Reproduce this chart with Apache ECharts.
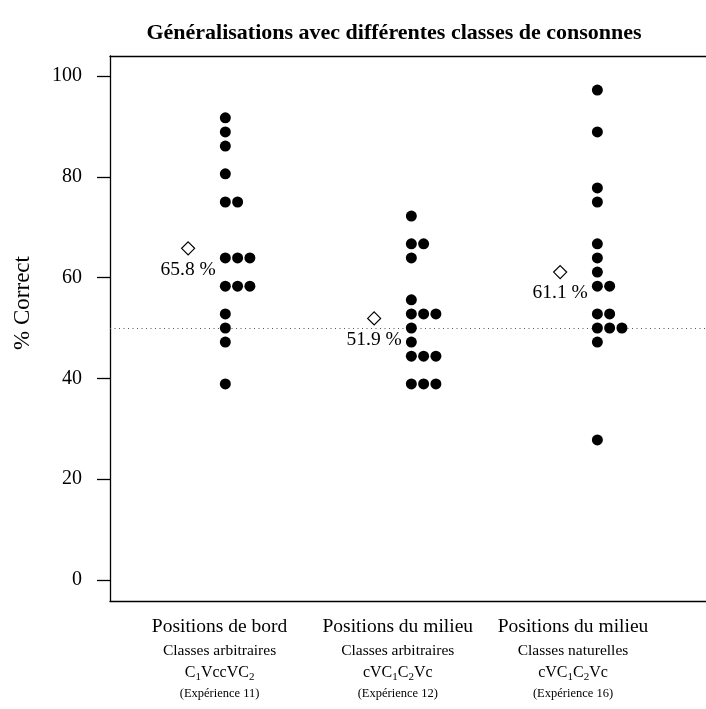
<!DOCTYPE html>
<html>
<head>
<meta charset="utf-8">
<script src="https://cdn.jsdelivr.net/npm/echarts@6/dist/echarts.min.js"></script>
<style>
  html, body { margin: 0; padding: 0; background: #fff; }
  #chart { width: 706px; height: 709px; }
</style>
</head>
<body>
<div id="chart"></div>
<script>
// Per-participant scores (% correct) for each condition
const edgeArbitrary = [91.7, 88.9, 86.1, 80.6, 75.0, 75.0, 63.9, 63.9, 63.9, 58.3, 58.3, 58.3, 52.8, 50.0, 47.2, 38.9];
const middleArbitrary = [72.2, 66.7, 66.7, 63.9, 55.6, 52.8, 52.8, 52.8, 50.0, 47.2, 44.4, 44.4, 44.4, 38.9, 38.9, 38.9];
const middleNatural = [97.2, 88.9, 77.8, 75.0, 66.7, 63.9, 61.1, 58.3, 58.3, 52.8, 52.8, 50.0, 50.0, 50.0, 47.2, 27.8];
const groupScores = [edgeArbitrary, middleArbitrary, middleNatural];

// Group means shown next to each column
const groupMeans = [65.8, 51.9, 61.1];

// Axis text
const yTicks = [0, 20, 40, 60, 80, 100];
const chanceLevel = 50;
const titleText = 'Généralisations avec différentes classes de consonnes';
const yTitle = '% Correct';
const conditionLines = [
  ['Positions de bord', 'Classes arbitraires', ['C', '1', 'VccVC', '2'], '(Expérience 11)'],
  ['Positions du milieu', 'Classes arbitraires', ['cVC', '1', 'C', '2', 'Vc'], '(Expérience 12)'],
  ['Positions du milieu', 'Classes naturelles', ['cVC', '1', 'C', '2', 'Vc'], '(Expérience 16)']
];
const groupPositions = [1, 2, 3];
const labelPositions = [0.969, 1.927, 2.869];

const FONT = 'Liberation Serif';
const dotStep = 0.066;      // horizontal step between tied scores
const meanOffset = -0.2;    // mean marker sits left of its column
const X_MIN = 0.38;
const X_MAX = 3.584;

// Stack tied values side by side, starting at the column position
const dotData = [];
groupScores.forEach((scores, g) => {
  const seen = {};
  scores.forEach(v => {
    const k = seen[v] || 0;
    seen[v] = k + 1;
    dotData.push([groupPositions[g] + k * dotStep, v]);
  });
});
const meanData = groupMeans.map((m, g) => [groupPositions[g] + meanOffset, m]);

function conditionLabel(value) {
  const idx = labelPositions.findIndex(p => Math.abs(p - value) < 1e-6);
  if (idx < 0) return '';
  const [l1, l2, formula, l4] = conditionLines[idx];
  const f = formula.map(part => /^\d$/.test(part) ? '{s|' + part + '}' : '{c|' + part + '}').join('');
  return '{a|' + l1 + '}\n{b|' + l2 + '}\n' + f + '\n{d|' + l4 + '}';
}

const frameLine = { show: true, onZero: false, lineStyle: { color: '#000', width: 1.3 } };

const chart = echarts.init(document.getElementById('chart'), null, { renderer: 'canvas' });
chart.setOption({
  backgroundColor: '#fff',
  animation: false,
  title: {
    text: titleText,
    left: 389,
    top: 17,
    textAlign: 'center',
    textStyle: { fontFamily: FONT, fontSize: 22, fontWeight: 'bold', color: '#000' }
  },
  grid: {
    left: 110,
    top: 56,
    right: 0,
    height: 545
  },
  xAxis: [
    {
      type: 'value',
      position: 'bottom',
      min: X_MIN,
      max: X_MAX,
      axisLine: frameLine,
      axisTick: { show: false },
      splitLine: { show: false },
      axisLabel: {
        customValues: labelPositions,
        margin: 13,
        color: '#000',
        fontFamily: FONT,
        formatter: conditionLabel,
        rich: {
          a: { fontFamily: FONT, fontSize: 19.5, lineHeight: 25, color: '#000' },
          b: { fontFamily: FONT, fontSize: 15.5, lineHeight: 23, color: '#000' },
          c: { fontFamily: FONT, fontSize: 16, lineHeight: 21, color: '#000' },
          s: { fontFamily: FONT, fontSize: 11, lineHeight: 12, verticalAlign: 'bottom', color: '#000' },
          d: { fontFamily: FONT, fontSize: 12.5, lineHeight: 21, color: '#000' }
        }
      }
    },
    {
      type: 'value',
      position: 'top',
      min: X_MIN,
      max: X_MAX,
      axisLine: frameLine,
      axisTick: { show: false },
      axisLabel: { show: false },
      splitLine: { show: false }
    }
  ],
  yAxis: {
    type: 'value',
    min: -4.17,
    max: 103.97,
    axisLine: frameLine,
    splitLine: { show: false },
    axisTick: {
      show: true,
      customValues: yTicks,
      length: 13,
      lineStyle: { color: '#000', width: 1.3 }
    },
    axisLabel: {
      customValues: yTicks,
      margin: 28,
      fontFamily: FONT,
      fontSize: 20,
      color: '#000'
    }
  },
  graphic: [{
    type: 'text',
    x: 23,
    y: 303,
    rotation: Math.PI / 2,
    style: {
      text: yTitle,
      font: '23px "' + FONT + '"',
      fill: '#000',
      textAlign: 'center',
      textVerticalAlign: 'middle'
    }
  }],
  series: [
    {
      name: 'scores',
      type: 'scatter',
      xAxisIndex: 0,
      data: dotData,
      symbol: 'circle',
      symbolSize: 11,
      itemStyle: { color: '#000', opacity: 1 },
      z: 3,
      markLine: {
        silent: true,
        symbol: ['none', 'none'],
        label: { show: false },
        lineStyle: { type: [1, 3.5], color: '#555', width: 1, opacity: 1 },
        data: [{ yAxis: chanceLevel }],
        z: 1
      }
    },
    {
      name: 'means',
      type: 'scatter',
      xAxisIndex: 0,
      data: meanData,
      symbol: 'diamond',
      symbolSize: [13, 13],
      itemStyle: { color: '#fff', borderColor: '#000', borderWidth: 1.2, opacity: 1 },
      z: 4,
      label: {
        show: true,
        position: 'bottom',
        distance: 4,
        formatter: p => p.value[1].toFixed(1) + ' %',
        fontFamily: FONT,
        fontSize: 19.5,
        color: '#000',
        opacity: 1
      }
    }
  ]
});
</script>
</body>
</html>
